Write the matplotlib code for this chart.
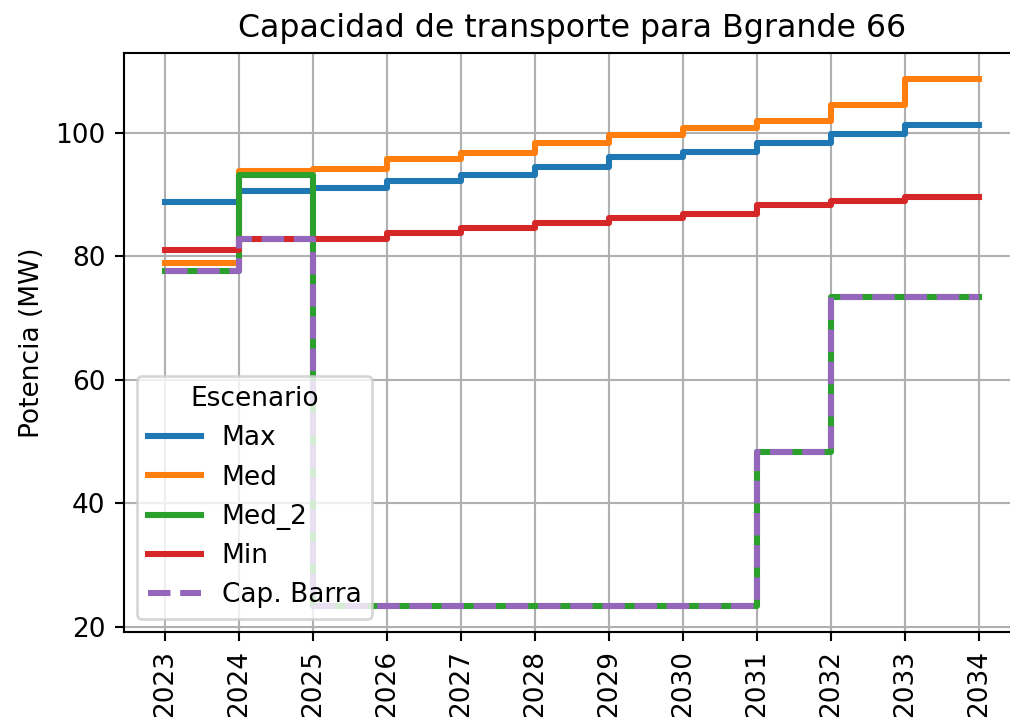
import matplotlib
matplotlib.use("Agg")
import matplotlib.pyplot as plt

years = [2023, 2024, 2025, 2026, 2027, 2028, 2029, 2030, 2031, 2032, 2033, 2034]

cap_max = [88.8, 90.6, 91.1, 92.2, 93.2, 94.5, 96.1, 96.9, 98.3, 99.9, 101.3, 101.3]
cap_med = [78.9, 93.8, 94.2, 95.8, 96.7, 98.4, 99.6, 100.8, 101.9, 104.5, 108.7, 108.7]
cap_med2 = [77.6, 93.2, 23.4, 23.4, 23.4, 23.4, 23.4, 23.4, 48.3, 73.4, 73.4, 73.4]
cap_min = [81.0, 82.8, 82.8, 83.8, 84.6, 85.4, 86.2, 86.9, 88.3, 89.0, 89.6, 89.6]
cap_barra = [77.6, 82.8, 23.4, 23.4, 23.4, 23.4, 23.4, 23.4, 48.3, 73.4, 73.4, 73.4]

dpi = 190
fig = plt.figure(figsize=(1010 / dpi, 719 / dpi), dpi=dpi)
# axes runs past the right edge, as in the reference crop
ax = fig.add_axes([124 / 1010, 87 / 719, 896 / 1010, 579 / 719])

lw = 2.3
ax.step(years, cap_max, where="post", color="C0", linewidth=lw, label="Max")
ax.step(years, cap_med, where="post", color="C1", linewidth=lw, label="Med")
ax.step(years, cap_med2, where="post", color="C2", linewidth=lw, label="Med_2")
ax.step(years, cap_min, where="post", color="C3", linewidth=lw, label="Min")
ax.step(years, cap_barra, where="post", color="C4", linewidth=lw, linestyle="--",
        label="Cap. Barra")

ax.set_xticks(years)
ax.set_xticklabels([str(y) for y in years], rotation=90)
ax.set_ylabel("Potencia (MW)")
ax.set_title("Capacidad de transporte para Bgrande 66")
ax.grid(True)
ax.legend(title="Escenario", loc="lower left")

fig.savefig("out.png", dpi=dpi)
plt.close(fig)
